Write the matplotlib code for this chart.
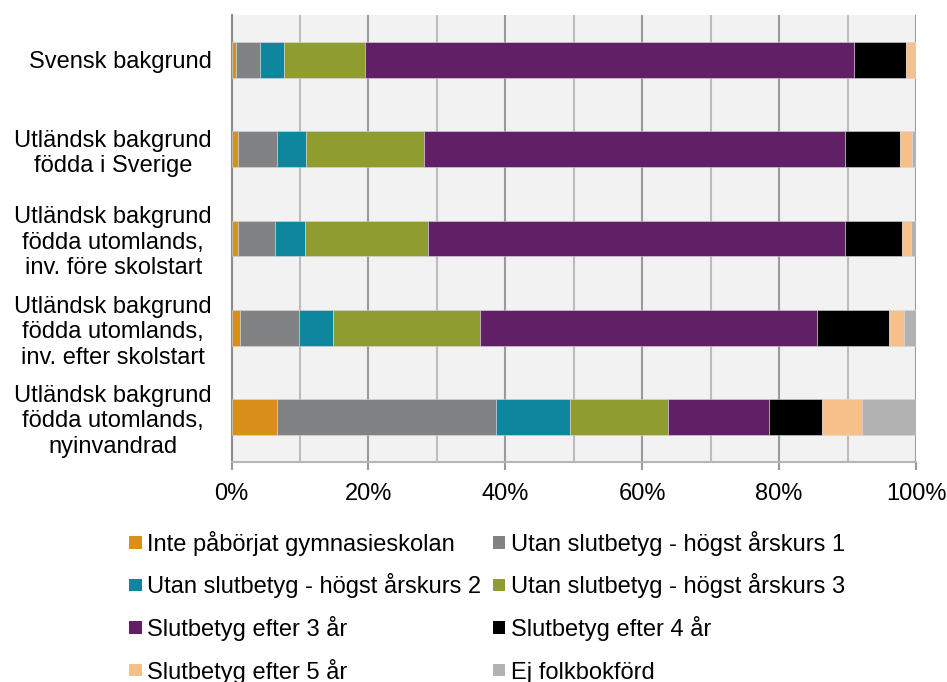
import matplotlib
matplotlib.use("Agg")
import matplotlib.pyplot as plt
from matplotlib.patches import Rectangle
from matplotlib.ticker import MultipleLocator, PercentFormatter
import numpy as np

plt.rcParams['font.family'] = ['Liberation Sans', 'DejaVu Sans']

groups = [
    "Svensk bakgrund",
    "Utländsk bakgrund\nfödda i Sverige",
    "Utländsk bakgrund\nfödda utomlands,\ninv. före skolstart",
    "Utländsk bakgrund\nfödda utomlands,\ninv. efter skolstart",
    "Utländsk bakgrund\nfödda utomlands,\nnyinvandrad",
]

series = [
    "Inte påbörjat gymnasieskolan",
    "Utan slutbetyg - högst årskurs 1",
    "Utan slutbetyg - högst årskurs 2",
    "Utan slutbetyg - högst årskurs 3",
    "Slutbetyg efter 3 år",
    "Slutbetyg efter 4 år",
    "Slutbetyg efter 5 år",
    "Ej folkbokförd",
]

# percent per group, one list per series
inte_paborjat = [0.7, 1.0, 1.0, 1.2, 6.6]
hogst_ak1 = [3.5, 5.6, 5.3, 8.6, 32.0]
hogst_ak2 = [3.5, 4.3, 4.5, 5.1, 10.9]
hogst_ak3 = [11.8, 17.2, 17.9, 21.4, 14.2]
slut_3ar = [71.5, 61.6, 60.9, 49.2, 14.8]
slut_4ar = [7.5, 8.0, 8.3, 10.6, 7.8]
slut_5ar = [1.4, 1.7, 1.4, 2.1, 5.8]
ej_folkbokford = [0.1, 0.6, 0.7, 1.8, 7.9]

values = [inte_paborjat, hogst_ak1, hogst_ak2, hogst_ak3,
          slut_3ar, slut_4ar, slut_5ar, ej_folkbokford]

colors = ["#D9901A", "#818283", "#0E869E", "#8F9C30",
          "#612066", "#000000", "#F7C08A", "#B2B2B2"]

W, H = 947, 682
fig = plt.figure(figsize=(W / 100, H / 100), dpi=100)
ax = fig.add_axes([231.5 / W, 1 - 462 / H, (916 - 231.5) / W, (462 - 15) / H])
ax.set_facecolor("#F2F2F2")

y = np.arange(len(groups))
left = np.zeros(len(groups))
for name, vals, c in zip(series, values, colors):
    vals = np.array(vals)
    ax.barh(y, vals, left=left, height=0.4, color=c, label=name,
            edgecolor="#d8d8d8", linewidth=0.4, zorder=3)
    left += vals

ax.set_xlim(0, 100)
ax.set_ylim(len(groups) - 0.5, -0.5)
ax.set_yticks(y)
ax.set_yticklabels(groups, multialignment="center", fontsize=17)
ax.xaxis.set_major_locator(MultipleLocator(20))
ax.xaxis.set_minor_locator(MultipleLocator(10))
ax.xaxis.set_major_formatter(PercentFormatter(decimals=0))
ax.tick_params(axis="x", which="major", labelsize=17, length=6, width=1.5,
               color="#999999", pad=9)
ax.tick_params(axis="x", which="minor", length=0)
ax.tick_params(axis="y", length=0, pad=14)
ax.grid(axis="x", which="major", color="#9a9a9a", linewidth=1.5, zorder=0)
ax.grid(axis="x", which="minor", color="#bdbdbd", linewidth=1.5, zorder=0)
ax.set_axisbelow(True)
for s in ["top", "right"]:
    ax.spines[s].set_visible(False)
ax.spines["left"].set_color("#8c8c8c")
ax.spines["left"].set_linewidth(1.5)
ax.spines["bottom"].set_color("#b5b5b5")
ax.spines["bottom"].set_linewidth(1.5)

# legend laid out by hand: two columns, filled row by row
col_x = [129, 493]
row_y = [542.5, 585, 627.5, 670]
box = 12.5
for i, (name, c) in enumerate(zip(series, colors)):
    cx = col_x[i % 2]
    cy = row_y[i // 2]
    fig.add_artist(Rectangle((cx / W, 1 - (cy + box / 2) / H), box / W, box / H,
                             transform=fig.transFigure, facecolor=c, edgecolor="none"))
    fig.text((cx + box + 5.5) / W, 1 - (cy + 8.5) / H, name, fontsize=17,
             ha="left", va="baseline")

fig.savefig("out.png", dpi=100)
